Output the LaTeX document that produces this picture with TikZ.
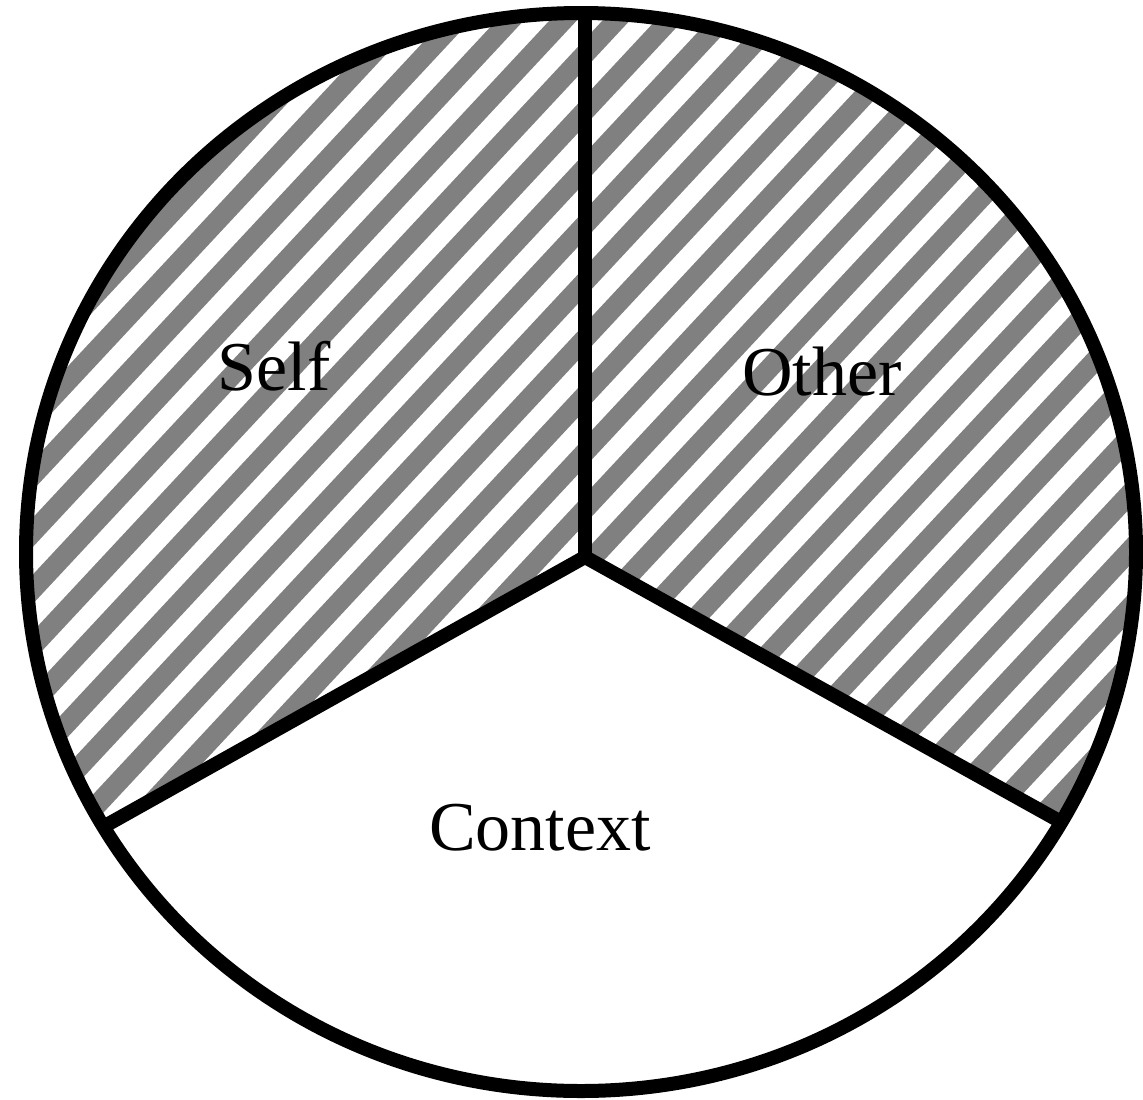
\documentclass[tikz,border=0pt]{standalone}
\usepackage{fontspec}
\setmainfont{Liberation Serif}
\definecolor{stripegray}{HTML}{808080}
\begin{document}
\begin{tikzpicture}[x=1pt,y=-1pt,
  rim/.style={line width=14pt, draw=black},
  stripe/.style={line width=20pt, draw=stripegray},
  label/.style={anchor=base, inner sep=0pt, font=\fontsize{70}{84}\selectfont}]
\useasboundingbox (0,0) rectangle (1143,1100);
\coordinate (O) at (581,552);
\coordinate (C) at (585,557);
\coordinate (T) at (585,12);
\coordinate (L) at (103,827);
\coordinate (R) at (1063,823);
\def\hatching{%
  \foreach \k in {-22,...,23} {
    \pgfmathsetmacro{\px}{752+\k*38.8*sin(47)}
    \pgfmathsetmacro{\py}{330+\k*38.8*cos(47)}
    \pgfmathsetmacro{\ax}{\px+1500*cos(47)}
    \pgfmathsetmacro{\ay}{\py-1500*sin(47)}
    \pgfmathsetmacro{\bx}{\px-1500*cos(47)}
    \pgfmathsetmacro{\by}{\py+1500*sin(47)}
    \draw[stripe] (\ax,\ay) -- (\bx,\by);
  }}
\begin{scope}
  \clip (O) ellipse [x radius=555, y radius=539];
  \fill[white] (0,0) rectangle (1143,1100);
  \begin{scope}
    \clip (C) -- (585,-100) -- (-100,-100) -- (-100,941) -- cycle;
    \hatching
  \end{scope}
  \begin{scope}
    \clip (C) -- (585,-100) -- (1250,-100) -- (1250,927) -- cycle;
    \hatching
  \end{scope}
\end{scope}
\draw[rim] (C) -- (T);
\draw[rim] (L) -- (C) -- (R);
\draw[rim] (O) ellipse [x radius=555, y radius=539];
\node[label] (self) at (274,390) {Self};
\node[label] (other) at (822,395) {Other};
\node[label] (context) at (540,850) {Context};
\end{tikzpicture}
\end{document}
